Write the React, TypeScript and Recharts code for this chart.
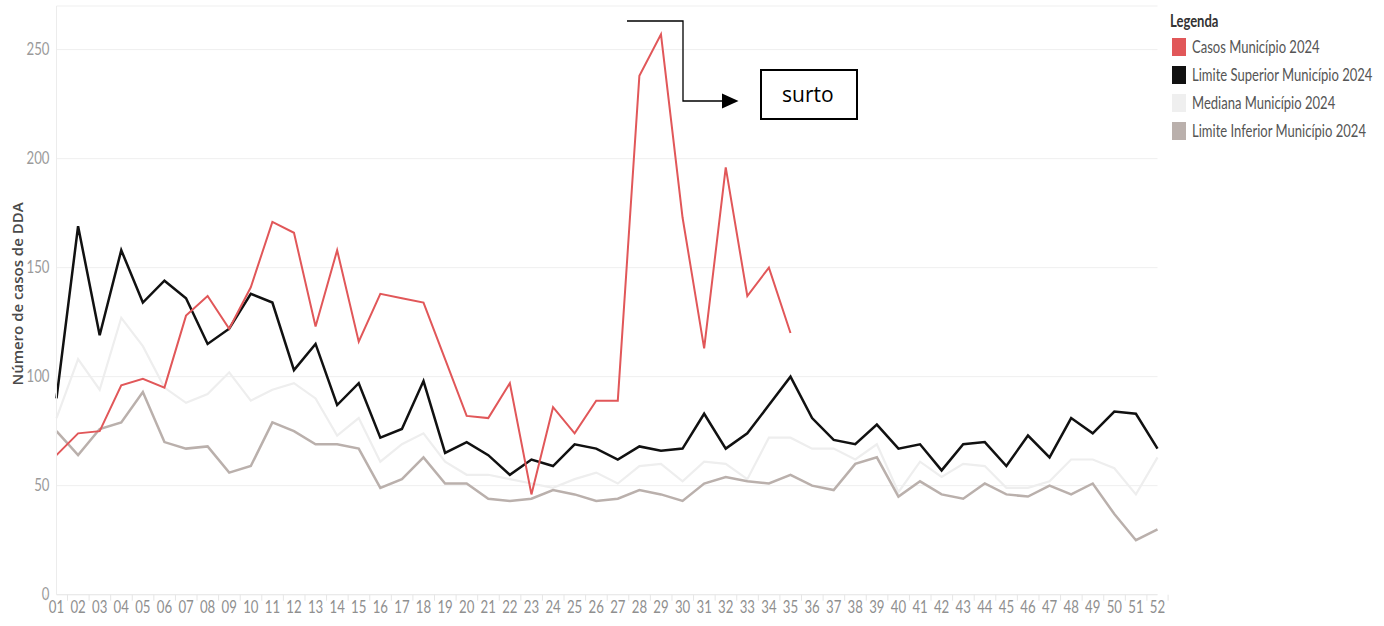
import React from 'react';
import { LineChart, Line, XAxis, YAxis, CartesianGrid } from 'recharts';

const weeks = [
  '01', '02', '03', '04', '05', '06', '07', '08', '09', '10',
  '11', '12', '13', '14', '15', '16', '17', '18', '19', '20',
  '21', '22', '23', '24', '25', '26', '27', '28', '29', '30',
  '31', '32', '33', '34', '35', '36', '37', '38', '39', '40',
  '41', '42', '43', '44', '45', '46', '47', '48', '49', '50',
  '51', '52',
];

// Casos only reported up to week 35
const casos = [
  64, 74, 75, 96, 99, 95, 128, 137, 122, 141,
  171, 166, 123, 158, 116, 138, 136, 134, 108, 82,
  81, 97, 46, 86, 74, 89, 89, 238, 257, 173,
  113, 196, 137, 150, 120,
];
const limiteSuperior = [
  90, 169, 119, 158, 134, 144, 136, 115, 122, 138,
  134, 103, 115, 87, 97, 72, 76, 98, 65, 70,
  64, 55, 62, 59, 69, 67, 62, 68, 66, 67,
  83, 67, 74, 87, 100, 81, 71, 69, 78, 67,
  69, 57, 69, 70, 59, 73, 63, 81, 74, 84, 83, 67,
];
const mediana = [
  81, 108, 94, 127, 114, 95, 88, 92, 102, 89,
  94, 97, 90, 73, 81, 61, 69, 74, 61, 55,
  55, 53, 51, 49, 53, 56, 51, 59, 60, 52,
  61, 60, 53, 72, 72, 67, 67, 62, 69, 47,
  61, 54, 60, 59, 49, 49, 52, 62, 62, 58, 46, 63,
];
const limiteInferior = [
  75, 64, 76, 79, 93, 70, 67, 68, 56, 59,
  79, 75, 69, 69, 67, 49, 53, 63, 51, 51,
  44, 43, 44, 48, 46, 43, 44, 48, 46, 43,
  51, 54, 52, 51, 55, 50, 48, 60, 63, 45,
  52, 46, 44, 51, 46, 45, 50, 46, 51, 37, 25, 30,
];
const yTicks = [0, 50, 100, 150, 200, 250];

const series = [
  { key: 'casos', name: 'Casos Município 2024', color: '#e15759' },
  { key: 'superior', name: 'Limite Superior Município 2024', color: '#111111' },
  { key: 'mediana', name: 'Mediana Município 2024', color: '#efefef' },
  { key: 'inferior', name: 'Limite Inferior Município 2024', color: '#bab0ac' },
];

const data = weeks.map((week, i) => ({
  week,
  casos: i < casos.length ? casos[i] : null,
  superior: limiteSuperior[i],
  mediana: mediana[i],
  inferior: limiteInferior[i],
}));

const W = 1384;
const H = 626;
const Y_AXIS_W = 56.5;
const RIGHT = 226.5;
const STEP = (W - Y_AXIS_W - RIGHT) / weeks.length;
const font = "Lato, sans-serif";
const SQUEEZE = 0.8; // reference text is condensed

const XTick = (props: any) => {
  const { x, y, payload, index } = props;
  return (
    <g>
      <line x1={x - STEP / 2} x2={x - STEP / 2} y1={y} y2={y + 6} stroke="#e6e6e6" />
      {index === weeks.length - 1 && (
        <line x1={x + STEP / 2} x2={x + STEP / 2} y1={y} y2={y + 6} stroke="#e6e6e6" />
      )}
      <text
        transform={`translate(${x} ${y + 18.5}) scale(${SQUEEZE} 1)`}
        textAnchor="middle"
        fill="#8f8f8f"
        fontSize={16.5}
        fontFamily={font}
      >
        {payload.value}
      </text>
    </g>
  );
};

const YTick = (props: any) => {
  const { y, payload } = props;
  return (
    <text
      transform={`translate(49.5 ${y + 5.5}) scale(${SQUEEZE} 1)`}
      textAnchor="end"
      fill="#9a9a9a"
      fontSize={16.5}
      fontFamily={font}
    >
      {payload.value}
    </text>
  );
};

const YLabel = () => (
  <text
    x={23}
    y={294}
    transform="rotate(-90 23 294)"
    textAnchor="middle"
    fill="#4a4a4a"
    fontSize={15}
    fontWeight={600}
    fontFamily="'Open Sans', sans-serif"
  >
    Número de casos de DDA
  </text>
);

const squeezed: React.CSSProperties = {
  display: 'inline-block',
  transform: 'scaleX(0.79)',
  transformOrigin: 'left center',
};

const Legenda = () => (
  <div style={{ position: 'absolute', left: 1170, top: 11, fontFamily: font, whiteSpace: 'nowrap' }}>
    <div style={{ fontSize: 16.5, fontWeight: 700, color: '#333', lineHeight: '20px' }}>
      <span style={squeezed}>Legenda</span>
    </div>
    {series.map((s, i) => (
      <div key={s.key} style={{ position: 'absolute', top: 26 + i * 28, left: 2, display: 'flex', alignItems: 'center' }}>
        <div style={{ width: 14, height: 18, background: s.color }} />
        <span style={{ ...squeezed, marginLeft: 6, fontSize: 16.5, color: '#555' }}>{s.name}</span>
      </div>
    ))}
  </div>
);

const Surto = () => (
  <svg width={W} height={H} style={{ position: 'absolute', left: 0, top: 0, pointerEvents: 'none' }}>
    <polyline points="627,21 683,21 683,101 724,101" fill="none" stroke="#000" strokeWidth={1.3} />
    <polygon points="722,93.5 738.5,101 722,108.5" fill="#000" />
    <rect x={761} y={70} width={96} height={49} fill="#fff" stroke="#000" strokeWidth={2} />
    <text x={782} y={101.5} fontSize={21} fill="#000" fontFamily="'Open Sans', sans-serif">surto</text>
  </svg>
);

export default function App() {
  return (
    <div style={{ position: 'absolute', left: 0, top: 0, width: W, height: H, background: '#fff' }}>
      <LineChart width={W} height={H} data={data} margin={{ top: 6, right: RIGHT, bottom: 0, left: 0 }}>
        <CartesianGrid vertical={false} stroke="#efefef" />
        <XAxis
          dataKey="week"
          height={31.3}
          tickLine={false}
          tickSize={0}
          tickMargin={0}
          interval={0}
          axisLine={{ stroke: '#e8e8e8' }}
          tick={<XTick />}
        />
        <YAxis
          width={Y_AXIS_W}
          domain={[0, 270]}
          ticks={yTicks}
          tickLine={false}
          tickSize={0}
          tickMargin={8}
          axisLine={{ stroke: '#ececec' }}
          tick={<YTick />}
          label={<YLabel />}
        />
        <Line type="linear" dataKey="mediana" stroke="#eeeeee" strokeWidth={2.2} dot={false} isAnimationActive={false} />
        <Line type="linear" dataKey="inferior" stroke="#bab0ac" strokeWidth={2.5} dot={false} isAnimationActive={false} />
        <Line type="linear" dataKey="superior" stroke="#111111" strokeWidth={2.5} dot={false} isAnimationActive={false} />
        <Line type="linear" dataKey="casos" stroke="#e15759" strokeWidth={2} dot={false} isAnimationActive={false} />
      </LineChart>
      <Legenda />
      <Surto />
    </div>
  );
}
